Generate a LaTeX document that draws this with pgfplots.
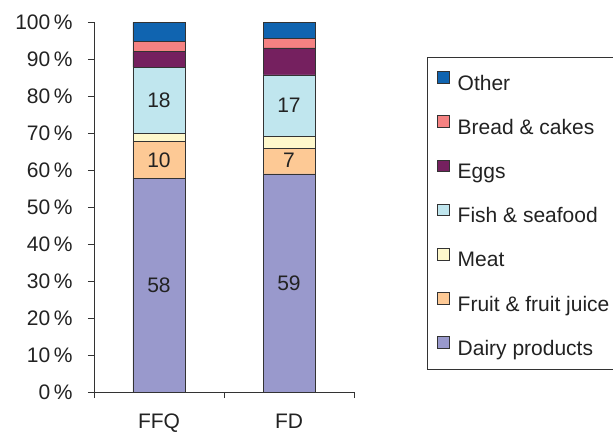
\documentclass[border=0pt]{standalone}
\usepackage{pgfplots}
\pgfplotsset{compat=1.18}
\usepackage{fontspec}
\setmainfont{Liberation Sans}
\definecolor{cOther}{HTML}{1064B0}
\definecolor{cBread}{HTML}{F58282}
\definecolor{cEggs}{HTML}{75205F}
\definecolor{cFish}{HTML}{C0E6EE}
\definecolor{cMeat}{HTML}{FEF8CC}
\definecolor{cFruit}{HTML}{FDC995}
\definecolor{cDairy}{HTML}{9999CC}
\definecolor{txt}{HTML}{222222}
\definecolor{ln}{HTML}{333333}
\newcommand{\bigf}{\fontsize{21bp}{24bp}\selectfont}
\begin{document}
\begin{tikzpicture}
\useasboundingbox (-94bp,-41bp) rectangle (519bp,392bp);
\begin{axis}[
  at={(0,0)}, anchor=south west,
  scale only axis, width=260bp, height=369.5bp,
  xmin=0, xmax=2, ymin=0, ymax=100,
  axis x line*=bottom, axis y line*=left,
  ybar stacked, bar width=52bp,
  xtick={0,1,2}, xticklabels={FFQ,FD}, x tick label as interval,
  ytick={0,10,...,100},
  yticklabel={\pgfmathprintnumber{\tick}\,\%},
  /pgf/number format/assume math mode=true,
  tick align=outside, major tick length=6bp,
  tick style={draw=ln, line width=0.8pt},
  axis line style={draw=ln, line width=0.8pt},
  ticklabel style={font=\bigf, text=txt},
  yticklabel style={xshift=-12bp},
  xticklabel style={yshift=-12.5bp},
  every axis plot/.append style={draw=ln, line width=0.8pt},
  reverse legend,
  legend cell align=left,
  legend image code/.code={\draw[#1, draw=ln, line width=0.8pt] (0bp,-0.5bp) rectangle (11.5bp,11bp);},
  legend style={at={(1.2808,0.9079)}, anchor=north west, draw=ln, line width=0.8pt,
    inner xsep=10bp, inner ysep=14.3bp, row sep=25.3bp, font=\bigf, text=txt,
    nodes={inner xsep=8bp, inner ysep=0pt, text height=15bp, text depth=0pt}},
  after end axis/.append code={
    \node[font=\bigf, text=txt] at (axis cs:0.5,28.9) {58};
    \node[font=\bigf, text=txt] at (axis cs:0.5,62.8) {10};
    \node[font=\bigf, text=txt] at (axis cs:0.5,78.9) {18};
    \node[font=\bigf, text=txt] at (axis cs:1.5,29.5) {59};
    \node[font=\bigf, text=txt] at (axis cs:1.5,62.6) {7};
    \node[font=\bigf, text=txt] at (axis cs:1.5,77.5) {17};
  },
]
\addplot[fill=cDairy] coordinates {(0.5,57.8) (1.5,59.0)};
\addlegendentry{Dairy products}
\addplot[fill=cFruit] coordinates {(0.5,10.0) (1.5,7.0)};
\addlegendentry{Fruit \& fruit juice}
\addplot[fill=cMeat] coordinates {(0.5,2.1) (1.5,3.2)};
\addlegendentry{Meat}
\addplot[fill=cFish] coordinates {(0.5,18.0) (1.5,16.6)};
\addlegendentry{Fish \& seafood}
\addplot[fill=cEggs] coordinates {(0.5,4.2) (1.5,7.3)};
\addlegendentry{Eggs}
\addplot[fill=cBread] coordinates {(0.5,2.7) (1.5,2.5)};
\addlegendentry{Bread \& cakes}
\addplot[fill=cOther] coordinates {(0.5,5.2) (1.5,4.4)};
\addlegendentry{Other}
\end{axis}
\end{tikzpicture}
\end{document}
